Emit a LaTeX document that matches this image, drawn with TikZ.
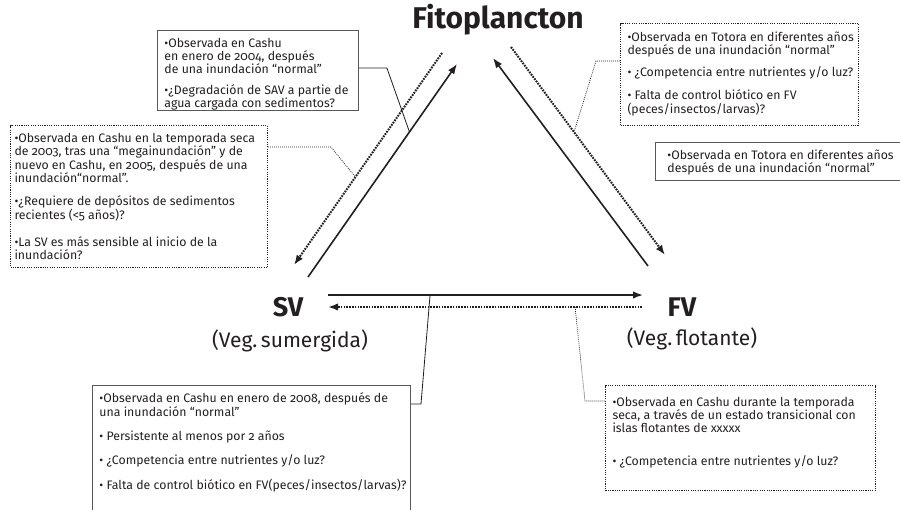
\documentclass[tikz,border=0pt]{standalone}
\usepackage{fontspec}
\setmainfont{Fira Sans}[Numbers=OldStyle]
\usetikzlibrary{arrows.meta}
\definecolor{txt}{HTML}{231F20}
\definecolor{boxgray}{HTML}{58595B}
\newcommand{\itm}{{\fontsize{12}{12}\selectfont•}}
\newcommand{\boxtext}[3]{\parbox[c][#2][t]{#1}{\begin{tabular}{@{}l@{}}#3\end{tabular}}}

\begin{document}
\begin{tikzpicture}[x=1pt, y=-1pt,
		every node/.style={text=txt},
		txtbox/.style={draw=boxgray, line width=0.9pt, inner xsep=7pt, inner ysep=7.5pt, anchor=north west, font=\fontsize{12.3}{11.8}\selectfont},
		dotbox/.style={txtbox, draw=txt, line width=1pt, dash pattern=on 1.1pt off 1.2pt},
		solidarr/.style={txt, line width=1.6pt, -{Latex[length=10pt,width=7.5pt]}},
		dotarr/.style={txt, line width=2pt, dash pattern=on 1.7pt off 1.1pt, -{Latex[length=10pt,width=7.5pt]}},
		link/.style={txt, line width=0.8pt},
		dotlink/.style={txt, line width=0.8pt, dash pattern=on 0.8pt off 1.2pt}]
	\useasboundingbox (0,0) rectangle (900,509);

	\node[font=\bfseries\fontsize{30}{30}\selectfont, anchor=base] (fito) at (498,28) {Fitoplancton};
	\node[font=\bfseries\fontsize{27}{27}\selectfont, anchor=base] (sv) at (288,316) {SV};
	\node[font=\fontsize{21}{21}\selectfont, anchor=base] (svsub) at (290,347.5) {(Veg.\,sumergida)};
	\node[font=\bfseries\fontsize{27}{27}\selectfont, anchor=base] (fv) at (682,316) {FV};
	\node[font=\fontsize{21}{21}\selectfont, anchor=base] (fvsub) at (692,345.5) {(Veg.\,flotante)};

	% arrow ends
	\coordinate (sv-up) at (308,277);	\coordinate (fito-in1) at (457,64);
	\coordinate (fito-out1) at (442,53);	\coordinate (sv-in1) at (294,265);
	\coordinate (fv-up) at (648,266);	\coordinate (fito-in2) at (493,58);
	\coordinate (fito-out2) at (511,47);	\coordinate (fv-in1) at (665,255);
	\coordinate (sv-right) at (328,295);	\coordinate (fv-in2) at (643,295);
	\coordinate (fv-left) at (642,307);	\coordinate (sv-in2) at (328,307);

	\draw[solidarr] (sv-up) -- coordinate[pos=0.681] (c1) (fito-in1);
	\draw[dotarr] (fito-out1) -- coordinate[pos=0.585] (c3) (sv-in1);
	\draw[solidarr] (fv-up) -- (fito-in2);
	\draw[dotarr] (fito-out2) -- coordinate[pos=0.409] (c2) (fv-in1);
	\draw[solidarr] (sv-right) -- coordinate[pos=0.324] (c4) (fv-in2);
	\draw[dotarr] (fv-left) -- coordinate[pos=0.213] (c5) (sv-in2);

	\node[txtbox] (tlbox) at (157,30) {\boxtext{187pt}{65pt}{%
		\itm Observada en Cashu\\
		en enero de 2004, después\\
		de una inundación “normal”\\[7pt]
		\itm¿Degradación de SAV a partie de\\
		agua cargada con sedimentos?}};
	\node[dotbox] (trbox) at (620,23) {\boxtext{224pt}{87pt}{%
		\rule{0pt}{10pt}\itm Observada en Totora en diferentes años\\
		después de una inundación “normal”\\[9pt]
		\itm\ ¿Competencia entre nutrientes y/o luz?\\[9pt]
		\itm\ Falta de control biótico en FV\\
		(peces/insectos/larvas)?}};
	\node[txtbox] (rmbox) at (655,142) {\boxtext{236pt}{23pt}{%
		\hspace*{5pt}\itm Observada en Totora en diferentes años\\
		\hspace*{5pt}después de una inundación “normal”}};
	\node[dotbox, inner xsep=4pt] (lbox) at (10,125) {\boxtext{249pt}{127pt}{%
		\itm Observada en Cashu en la temporada seca\\
		de 2003, tras una “megainundación” y de\\
		nuevo en Cashu, en 2005, después de una\\
		inundación“normal”.\\[10pt]
		\itm¿Requiere de depósitos de sedimentos\\
		recientes (<5 años)?\\[13pt]
		\itm La SV es más sensible al inicio de la\\
		inundación?}};
	\node[txtbox] (blbox) at (92,385) {\boxtext{304pt}{111pt}{%
		\rule{0pt}{10pt}\itm Observada en Cashu en enero de 2008, después de\\
		una inundación “normal”\\[11pt]
		\itm\ Persistente al menos por 2 años\\[11pt]
		\itm\ ¿Competencia entre nutrientes y/o luz?\\[11pt]
		\itm\ Falta de control biótico en FV(peces/insectos/larvas)?}};
	\node[dotbox] (brbox) at (605,385) {\boxtext{256pt}{90pt}{%
		\rule{0pt}{13pt}\itm Observada en Cashu durante la temporada\\
		seca, a través de un estado transicional con\\
		islas flotantes de xxxxx\\[20pt]
		\itm\ ¿Competencia entre nutrientes y/o luz?}};

	\draw[link] ([yshift=-38pt]tlbox.north east) -- ++(28,0) -- (c1);
	\draw[dotlink] ([yshift=-38pt]trbox.north west) -- ++(-24,0) -- (c2);
	\draw[dotlink] ([yshift=-22pt]lbox.north east) -- ++(63,0) -- (c3);
	\draw[link] (c4) -- (421,404) -- ([yshift=-19pt]blbox.north east);
	\draw[dotlink] (c5) -- (585,401) -- ([yshift=-16pt]brbox.north west);
\end{tikzpicture}
\end{document}
